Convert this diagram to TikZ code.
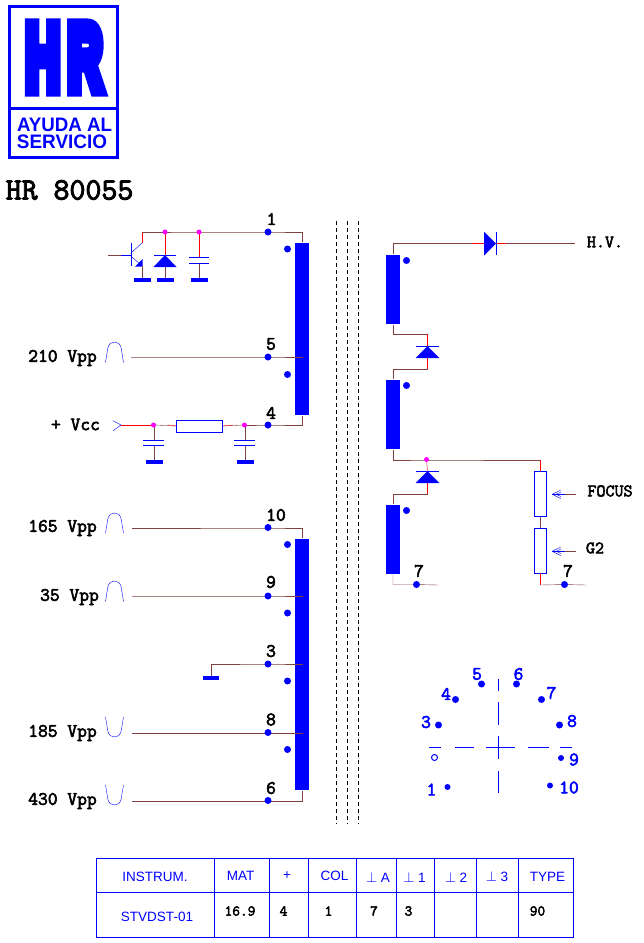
\documentclass[tikz,border=0pt]{standalone}
\usepackage{fontspec}
\setmainfont{Liberation Sans}
\setmonofont{Latin Modern Mono}[BoldFont={Latin Modern Mono},BoldFeatures={FakeBold=3}]
\usetikzlibrary{positioning}
\pgfdeclarelayer{dots}
\pgfsetlayers{main,dots}
\definecolor{wirec}{RGB}{128,64,64}
\definecolor{jointc}{RGB}{255,0,255}
\begin{document}
\begin{tikzpicture}[x=1pt,y=-1pt,line width=1.2pt,
wire/.style={wirec},wireR/.style={red},part/.style={blue},
coil/.style={rectangle,fill=blue,minimum width=14pt,inner sep=0pt},
pin/.style={circle,fill=blue,minimum size=7pt,inner sep=0pt},
pinS/.style={pin,minimum size=6pt},
joint/.style={circle,fill=jointc,minimum size=5pt,inner sep=0pt},
gnd/.style={rectangle,fill=blue,minimum width=17pt,minimum height=4pt,inner sep=0pt},
res/.style={rectangle,draw=blue,fill=white,inner sep=0pt},
num/.style={inner sep=0pt,font=\ttfamily\bfseries\fontsize{19}{19}\selectfont},
numB/.style={num,blue},
volt/.style={num},
logot/.style={inner sep=0pt,blue,text height=13.6pt,text depth=0pt,font=\bfseries\fontsize{19.5}{19.5}\selectfont},
head/.style={inner sep=0pt,blue,font=\fontsize{13.5}{13.5}\selectfont},
val/.style={inner sep=0pt,font=\ttfamily\bfseries\fontsize{15}{15}\selectfont},
lab/.style={inner sep=0pt,font=\ttfamily\bfseries\fontsize{17.5}{17.5}\selectfont}]

\useasboundingbox (0,0) rectangle (644,943);

%LOGO
\draw[blue,line width=3pt] (9.5,6.5) rectangle (117.5,157);
\draw[blue,line width=2.5pt] (9.5,108.5) -- (117.5,108.5);
\node[inner sep=0pt,blue] (logoHR) at (64,57.5) {\scalebox{.52}[1]{\fontspec{Liberation Sans Bold}[FakeBold=16]\fontsize{92}{92}\selectfont H\kern15pt R}};
\node[logot] (logoA) at (64.5,125) {\scalebox{.96}[1]{AYUDA AL}};
\node[logot] (logoS) at (62,141.5) {\scalebox{.97}[1]{SERVICIO}};
\node[inner sep=0pt,font=\ttfamily\bfseries\fontsize{31}{31}\selectfont] (title) at (69.5,190) {HR 80055};

%CORE
\draw[line width=1pt,dash pattern=on 4pt off 3pt] (336.5,221) coordinate (k1a) -- (336.5,824) coordinate (k1b);
\draw[line width=1pt,dash pattern=on 4pt off 3pt] (347.5,221) coordinate (k2a) -- (347.5,824) coordinate (k2b);
\draw[line width=1pt,dash pattern=on 4pt off 3pt] (358.5,221) coordinate (k3a) -- (358.5,824) coordinate (k3b);

%WINDINGS
\node[coil,minimum height=172pt] (W1) at (302,329) {};
\node[coil,minimum height=251pt] (W2) at (302,664.5) {};
\node[coil,minimum height=69pt] (H1) at (393,289.5) {};
\node[coil,minimum height=69pt] (H2) at (393,414.5) {};
\node[coil,minimum height=69pt] (H3) at (393,539.5) {};

\begin{pgfonlayer}{dots}
\node[pin] (P1) at (268,232) {};
\node[pin] (P5) at (268,357) {};
\node[pin] (P4) at (268,425) {};
\node[pin] (P10) at (268,527.5) {};
\node[pin] (P9) at (268,596) {};
\node[pin] (P3) at (268,664) {};
\node[pin] (P8) at (268,732.5) {};
\node[pin] (P6) at (268,800.5) {};
\node[pin] (Pa) at (416.5,584.5) {};
\node[pin] (Pb) at (564.5,584.5) {};
\node[pin] (d1) at (287.5,249) {};
\node[pin] (d2) at (287.5,374.5) {};
\node[pin] (d3) at (287.5,544.5) {};
\node[pin] (d4) at (287.5,613) {};
\node[pin] (d5) at (287.5,681) {};
\node[pin] (d6) at (287.5,749.5) {};
\node[pin] (d7) at (406.5,260.5) {};
\node[pin] (d8) at (406.5,385.5) {};
\node[pin] (d9) at (406.5,510.5) {};
\node[joint] (J1) at (165,232) {};
\node[joint] (J2) at (199,232) {};
\node[joint] (J3) at (153.5,425) {};
\node[joint] (J4) at (244.5,425) {};
\node[joint] (J5) at (426.5,459.5) {};
\end{pgfonlayer}

\node[num] (P1l) at (271.5,219) {1};
\node[num] (P5l) at (271,344) {5};
\node[num] (P4l) at (271,413) {4};
\node[num] (P10l) at (276,515) {10};
\node[num] (P9l) at (271,582) {9};
\node[num] (P3l) at (271,651) {3};
\node[num] (P8l) at (271,719.5) {8};
\node[num] (P6l) at (271,788) {6};
\node[num] (Pal) at (419,571) {7};
\node[num] (Pbl) at (568,571) {7};

%TRANSISTOR
\node[gnd] (G1) at (142.5,280) {};
\coordinate (Tb) at (108,255);
\coordinate (Tm) at (121,255);
\coordinate (Ta) at (131,255);
\coordinate (Tc) at (142,243);
\coordinate (Te) at (142,266);
\coordinate (Tt) at (142,232);
\draw[wire] (Tb) -- (Tm);
\draw[part] (Tm) -- (Ta);
\draw[part] (131,243) -- (131,266);
\draw[part] (131,253) -- (Tc);
\draw[part] (131,256) -- (Te);
\fill[part] (135,266.7) -- (142.7,259) -- (142.7,266.7) -- cycle;
\draw[wireR] (Tt) -- (Tc);
\draw[wire] (Te) -- (G1.north -| Te);

%DIODE TO PIN 1
\node[gnd] (G2) at (165.5,280) {};
\coordinate (D1) at (165,255);
\draw[wireR] (J1.center) -- (D1);
\draw[wire] (D1) -- (G2.north -| D1);
\draw[part,shift={(D1)}] (-11,0) -- (11,0);
\fill[part,shift={(D1)}] (-11.5,12) -- (11.5,12) -- (0,0) -- cycle;

%CAP TO PIN 1
\node[gnd] (G3) at (199.5,280) {};
\coordinate (C1) at (199,257);
\coordinate (C1b) at (199,263);
\draw[wireR] (J2.center) -- (C1);
\draw[wire] (C1b) -- (G3.north -| C1b);
\draw[part] (189,257) -- (209,257);
\draw[part] (189,263) -- (209,263);

%WIRES LEFT
\draw[wire] (W1.north) |- (P1.center) -- (J1.center) -- (J2.center) -- (Tt);
\coordinate (F5) at (131,357);
\coordinate (E5) at (302.5,357);
\draw[wire] (F5) -- (P5.center) -- (E5);
\node[volt] (V5) at (62.5,358) {210 Vpp};
\draw[part,shift={(114.5,342)}] (-9,20.5) -- (-7,8) .. controls (-6,1) and (-3,0) .. (0,0) .. controls (3,0) and (6,1) .. (7,8) -- (9,20.5);

%VCC
\node[res,minimum width=46pt,minimum height=12pt] (R1) at (199.5,426) {};
\coordinate (In) at (121,425);
\node[volt] (Vcc) at (75.5,424.5) {+ Vcc};
\draw[part] (113,420.7) -- (In) -- (113,430.7);
\draw[wireR] (In) -- (J3.center);
\draw[wire] (J3.center) -- (R1.west);
\draw[wireR] (168,425) -- (R1.west);
\draw[wire] (R1.east) -- (J4.center);
\draw[wireR] (R1.east) -- (233,425);
\draw[wire] (J4.center) -- (P4.center) -| (W1.south);
\node[gnd] (G4) at (154.5,462) {};
\node[gnd] (G5) at (245.5,462) {};
\coordinate (C2) at (154.5,440);
\coordinate (C2b) at (154.5,445);
\coordinate (C3) at (245.5,440);
\coordinate (C3b) at (245.5,445);
\draw[wire] (J3.center -| C2) -- (C2);
\draw[wire] (C2b) -- (G4.north);
\draw[part] (143,440) -- (164,440);
\draw[part] (143,445) -- (164,445);
\draw[wire] (J4.center -| C3) -- (C3);
\draw[wire] (C3b) -- (G5.north);
\draw[part] (234,440) -- (255,440);
\draw[part] (234,445) -- (255,445);

%LOWER WINDING
\coordinate (F10) at (132,528);
\draw[wire] (F10) -- (P10.center |- F10) -| (W2.north);
\node[volt] (V10) at (62.5,528) {165 Vpp};
\draw[part,shift={(114.5,513)}] (-9,20) -- (-7,8) .. controls (-6,1) and (-3,0) .. (0,0) .. controls (3,0) and (6,1) .. (7,8) -- (9,20);

\coordinate (F9) at (132,596);
\coordinate (E9) at (303,596);
\draw[wire] (F9) -- (P9.center) -- (E9);
\node[volt] (V9) at (69.5,597) {35 Vpp};
\draw[part,shift={(114.5,581)}] (-9,20.5) -- (-7,8) .. controls (-6,1) and (-3,0) .. (0,0) .. controls (3,0) and (6,1) .. (7,8) -- (9,20.5);

\node[gnd,minimum width=16pt] (G6) at (211,678) {};
\coordinate (E3) at (303,664);
\draw[wire] (G6.north) |- (P3.center) -- (E3);

\coordinate (F8) at (132,733);
\coordinate (E8) at (303,733);
\draw[wire] (F8) -- (P8.center |- F8) -- (E8);
\node[volt] (V8) at (62.5,733) {185 Vpp};
\draw[part,shift={(114.5,737)},yscale=-1] (-9,20) -- (-7,8) .. controls (-6,1) and (-3,0) .. (0,0) .. controls (3,0) and (6,1) .. (7,8) -- (9,20);

\coordinate (F6) at (132,801);
\draw[wire] (F6) -- (P6.center |- F6) -| (W2.south);
\node[volt] (V6) at (62.5,801) {430 Vpp};
\draw[part,shift={(114.5,805)},yscale=-1] (-9,20) -- (-7,8) .. controls (-6,1) and (-3,0) .. (0,0) .. controls (3,0) and (6,1) .. (7,8) -- (9,20);

%H.V. DIODE
\coordinate (D2) at (484,243.5);
\coordinate (D2b) at (496,243.5);
\coordinate (HV) at (575,243.5);
\coordinate (D2r) at (472,243.5);
\coordinate (D2s) at (506,243.5);
\draw[wire] (H1.north) |- (D2r);
\draw[wireR] (D2r) -- (D2);
\draw[wireR] (D2b) -- (D2s);
\draw[wire] (D2s) -- (HV);
\fill[part,shift={(D2)}] (0,-12) -- (0,12) -- (12,0) -- cycle;
\draw[part,shift={(D2b)}] (0,-12) -- (0,11.5);
\node[lab] (HVl) at (605,242) {H.V.};

%MIDDLE DIODES
\coordinate (D3) at (427.5,346);
\coordinate (D3t) at (427.5,334);
\coordinate (D3m) at (427.5,358);
\coordinate (D3b) at (427.5,369.5);
\draw[wire] (H1.south) |- (D3t);
\draw[wireR] (D3t) -- (D3);
\draw[wireR] (D3m) -- (D3b);
\draw[wire] (D3b) -| (H2.north);
\draw[part,shift={(D3)}] (-11.5,0) -- (11,0);
\fill[part,shift={(D3)}] (-12,12) -- (12,12) -- (0,0) -- cycle;

\coordinate (D4) at (427.5,471);
\coordinate (D4t) at (427.5,460);
\coordinate (D4m) at (427.5,483);
\coordinate (D4b) at (427.5,494.5);
\coordinate (Rt) at (540.5,460);
\draw[wire] (H2.south) |- (D4t) -- (Rt);
\draw[wireR] (J5.center) -- (D4);
\draw[wireR] (D4m) -- (D4b);
\draw[wire] (D4b) -| (H3.north);
\draw[part,shift={(D4)}] (-11.5,0) -- (11,0);
\fill[part,shift={(D4)}] (-12,12) -- (12,12) -- (0,0) -- cycle;

\coordinate (Ha) at (438,585);
\draw[wire] (H3.south) |- (Pa.center) -- (Ha);

%DIVIDER
\node[res,minimum width=12pt,minimum height=45.5pt] (R2) at (540.5,493.75) {};
\node[res,minimum width=12pt,minimum height=45pt] (R3) at (540.5,550.75) {};
\coordinate (Hb) at (586,585);
\draw[wireR] (Rt) -- (R2.north);
\draw[wire] (R2.south) -- (R3.north);
\draw[wireR] (R3.south) -- (540.5,585);
\draw[wire] (540.5,585) -- (Pb.center) -- (Hb);

\coordinate (Fa) at (552.3,494.3);
\coordinate (Fb) at (565,494.3);
\coordinate (Fc) at (576,494.3);
\draw[wire] (Fb) -- (Fc);
\draw[part] (Fa) -- (Fb);
\draw[part] (560.7,490) -- (Fa) -- (560.7,498.5);
\draw[part] (561,492) -- (556,494.3) -- (561,496.5);
\node[lab] (Fl) at (610,491) {FOCUS};

\coordinate (Ga) at (552.3,551.3);
\coordinate (Gb) at (565,551.3);
\coordinate (Gc) at (576,551.3);
\draw[wire] (Gb) -- (Gc);
\draw[part] (Ga) -- (Gb);
\draw[part] (560.7,547) -- (Ga) -- (560.7,555.5);
\draw[part] (561,549) -- (556,551.3) -- (561,553.5);
\node[lab] (Gl) at (595,548) {G2};

%BASE
\node[pin] (b4) at (455.5,699.5) {};
\node[pin] (b5) at (481.5,684) {};
\node[pin] (b6) at (516.5,684) {};
\node[pin] (b7) at (541.5,699.5) {};
\node[pin] (b8) at (559.5,725) {};
\node[pin] (b3) at (438.5,725) {};
\node[pinS] (b9) at (561,758) {};
\node[pinS] (b10) at (550,785.5) {};
\node[pinS] (b1) at (447.5,787) {};
\node[circle,draw=blue,line width=1pt,minimum size=6pt,inner sep=0pt] (b2) at (434.5,757.5) {};
\node[numB] (b5l) at (477,674) {5};
\node[numB] (b6l) at (518.5,674) {6};
\node[numB] (b4l) at (446,694) {4};
\node[numB] (b7l) at (551.5,693) {7};
\node[numB] (b3l) at (426,722) {3};
\node[numB] (b8l) at (572,721) {8};
\node[numB] (b9l) at (574,759.5) {9};
\node[numB] (b1l) at (431.5,789.5) {1};
\node[numB] (b10l) at (569,787.5) {10};
\draw[part] (429,747.5) -- (441,747.5);
\draw[part] (455,747.5) -- (474,747.5);
\draw[part] (486,747.5) -- (515,747.5);
\draw[part] (528,747.5) -- (549,747.5);
\draw[part] (560,747.5) -- (572,747.5);
\draw[part] (498.5,679) -- (498.5,691);
\draw[part] (498.5,702) -- (498.5,725);
\draw[part] (498.5,736) -- (498.5,759);
\draw[part] (498.5,771) -- (498.5,793);

%TABLE
\draw[part] (96.5,858.5) rectangle (573.5,937.5);
\draw[part] (96.5,892.5) -- (573.5,892.5);
\draw[part] (214.5,858.5) -- (214.5,937.5);
\draw[part] (269.5,858.5) -- (269.5,937.5);
\draw[part] (308.5,858.5) -- (308.5,937.5);
\draw[part] (356.5,858.5) -- (356.5,937.5);
\draw[part] (396.5,858.5) -- (396.5,937.5);
\draw[part] (434.5,858.5) -- (434.5,937.5);
\draw[part] (476.5,858.5) -- (476.5,937.5);
\draw[part] (518.5,858.5) -- (518.5,937.5);
\node[head] (h1) at (155,877) {INSTRUM.};
\node[head] (h2) at (240.5,876) {MAT};
\node[head] (h3) at (287,875.5) {+};
\node[head] (h4) at (334.5,876) {COL};
\node[head] (h5) at (378,877) {$\perp$ A};
\node[head] (h6) at (414.5,877) {$\perp$ 1};
\node[head] (h7) at (456,877) {$\perp$ 2};
\node[head] (h8) at (497,877) {$\perp$ 3};
\node[head] (h9) at (547.5,877) {TYPE};
\node[head] (t1) at (157,917) {STVDST-01};
\node[val] (t2) at (240,911) {16.9};
\node[val] (t3) at (283.5,911) {4};
\node[val] (t4) at (328.5,911) {1};
\node[val] (t5) at (374,911) {7};
\node[val] (t6) at (408.5,911) {3};
\node[val] (t7) at (537.5,911) {90};
\end{tikzpicture}
\end{document}
